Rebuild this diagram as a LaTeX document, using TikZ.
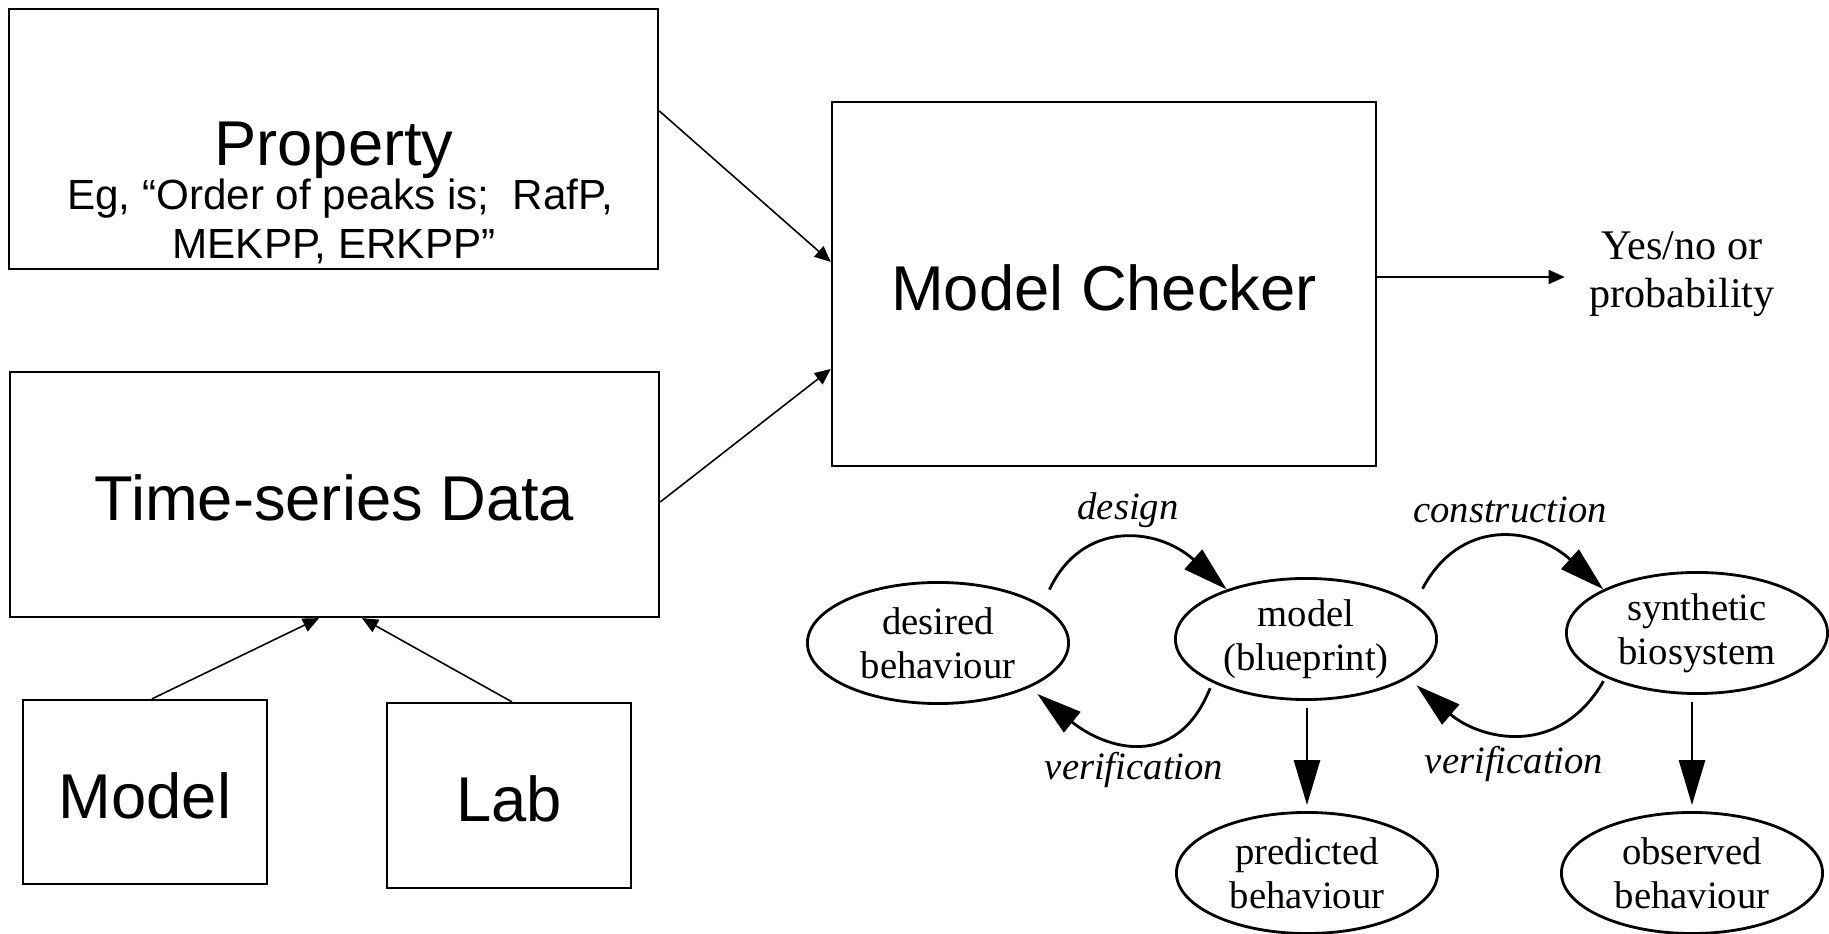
\documentclass[tikz,border=0pt]{standalone}
\usepackage{fontspec}
\setmainfont{Liberation Serif}
\newfontfamily\arialfont{Liberation Sans}
\usetikzlibrary{arrows.meta,shapes.geometric}

\begin{document}
\begin{tikzpicture}[x=0.01cm,y=-0.01cm,
  box/.style={draw,line width=0.6pt,inner sep=0pt},
  sans/.style={font=\arialfont\fontsize{18}{21.6}\selectfont},
  boxtext/.style={sans,text height=14.8pt,text depth=0pt},
  small/.style={font=\arialfont\fontsize{12}{13.8}\selectfont},
  flow/.style={line width=0.45pt,-{Triangle[length=1.6mm,width=1.4mm]}},
  state/.style={draw,ellipse,line width=0.8pt,minimum width=2.61cm,minimum height=1.21cm,
    inner sep=0pt,align=center,font=\fontsize{11}{12.6}\selectfont},
  edge/.style={line width=0.8pt,-{Triangle[length=4.5mm,width=2.6mm]}},
  lbl/.style={font=\itshape\fontsize{11}{13}\selectfont,inner sep=0pt}]
\fill[white] (0,0) rectangle (1829,934);
\useasboundingbox (0,0) rectangle (1829,934);

% --- model-checking pipeline ---
\node[box,minimum width=6.49cm,minimum height=2.60cm] (prop) at (333.5,139) {};
\node[sans,anchor=base,inner sep=0pt] (ptitle) at (334,166) {Property};
\node[small,anchor=base,inner sep=0pt] (pline1) at (340,210) {Eg, “Order of peaks is;\ \ RafP,};
\node[small,anchor=base,inner sep=0pt] (pline2) at (334,259) {MEKPP, ERKPP”};

\node[box,boxtext,minimum width=5.44cm,minimum height=3.64cm] (mc) at (1104,284) {Model Checker};
\node[box,boxtext,minimum width=6.49cm,minimum height=2.45cm] (tsd) at (334.5,494.5) {Time-series Data};
\node[box,boxtext,minimum width=2.44cm,minimum height=1.84cm] (modelbox) at (145,792) {Model};
\node[box,boxtext,minimum width=2.44cm,minimum height=1.85cm] (labbox) at (509,795.5) {Lab};

\node[inner sep=0pt,align=center,font=\fontsize{12}{13.5}\selectfont] (yn) at (1682,274) {Yes/no or\\probability};

\draw[flow] ([yshift=-1.03cm]prop.north east) -- ([yshift=-1.61cm]mc.north west);
\draw[flow] ([yshift=-1.31cm]tsd.north east) -- ([yshift=-2.68cm]mc.north west);
\draw[flow] ([xshift=1.30cm]modelbox.north west) -- ([xshift=3.10cm]tsd.south west);
\draw[flow] ([xshift=1.26cm]labbox.north west) -- ([xshift=3.53cm]tsd.south west);
\draw[flow] ([yshift=0.07cm]mc.east) -- ([xshift=-0.24cm,yshift=-0.03cm]yn.west);

% --- design / verification cycle ---
\node[state] (desired) at (938,643) {desired\\behaviour};
\node[state] (bp) at (1306,639) {model\\(blueprint)};
\node[state] (synth) at (1697,633) {synthetic\\biosystem};
\node[state] (predicted) at (1307,873) {predicted\\behaviour};
\node[state] (observed) at (1692,873) {observed\\behaviour};

\draw[edge,shorten <=1.7mm] (desired.20) to[out=65,in=138,looseness=1.3] (bp.148);
\draw[edge,shorten <=1.7mm] (bp.18) to[out=62,in=138,looseness=1.3] (synth.155);
\draw[edge,shorten <=0.6mm,shorten >=1mm] (bp.205) to[out=-112,in=-39,looseness=1.35] (desired.-26);
\draw[edge,shorten <=0.4mm,shorten >=1.1mm] (synth.206) to[out=-120,in=-40.5,looseness=1.22] (bp.-21);
\draw[edge,shorten <=0.7mm,shorten >=0.6mm] (predicted.north |- bp.south) -- (predicted.north);
\draw[edge,shorten <=0.7mm,shorten >=0.6mm] (observed.north |- synth.south) -- (observed.north);

\node[lbl] (ldesign) at (1128,510) {design};
\node[lbl] (lconstr) at (1510,510) {construction};
\node[lbl] (lver1) at (1134,770) {verification};
\node[lbl] (lver2) at (1514,764) {verification};
\end{tikzpicture}
\end{document}
